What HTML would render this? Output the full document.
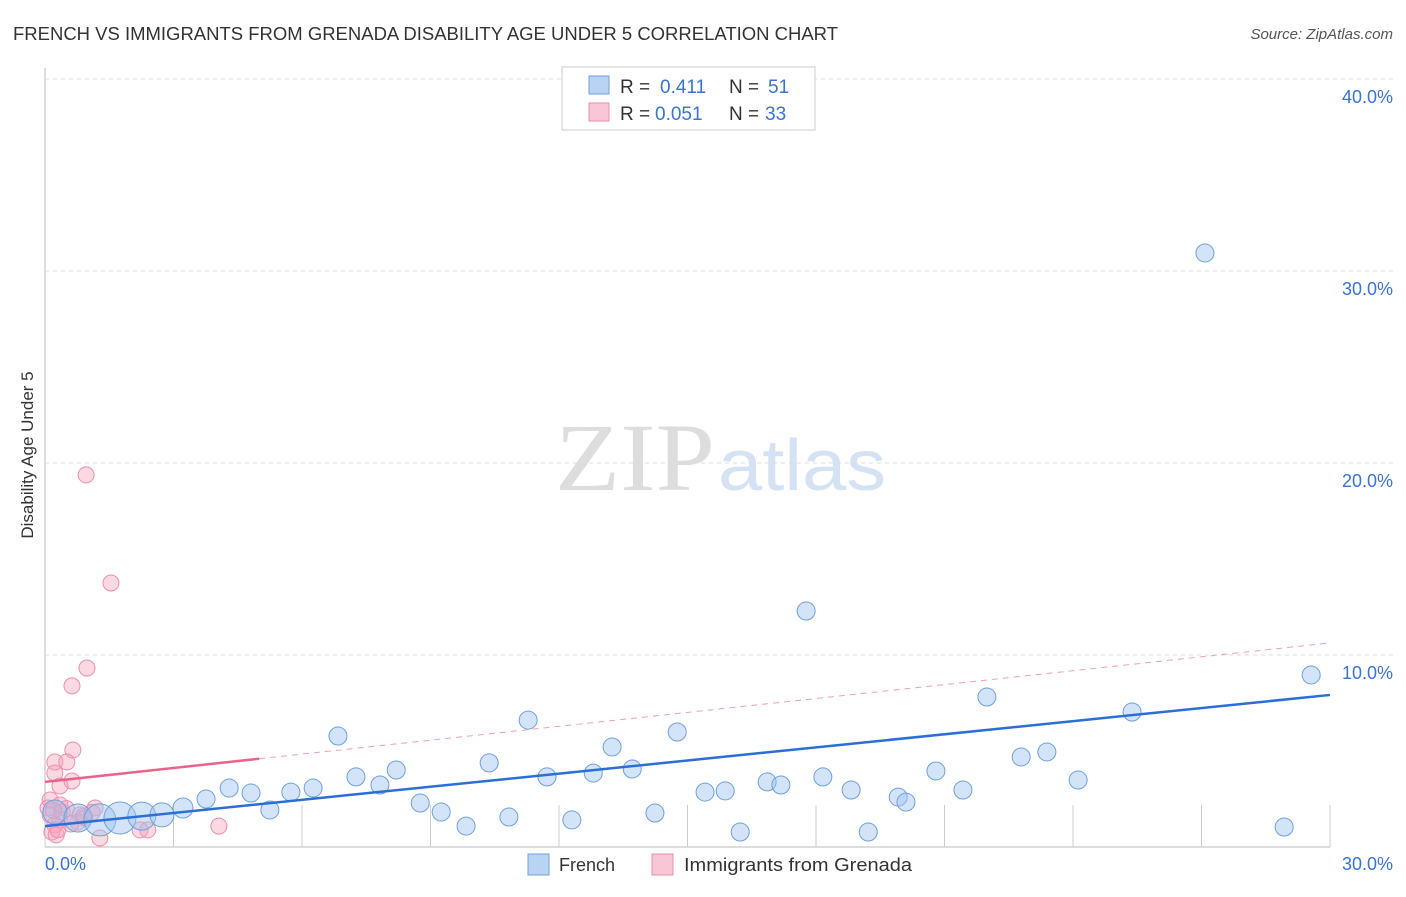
<!DOCTYPE html>
<html><head><meta charset="utf-8"><style>
body{margin:0;background:#fff;font-family:"Liberation Sans",sans-serif;}
svg text{font-family:"Liberation Sans",sans-serif;}
</style></head><body>
<svg id="c" width="1406" height="892">
<text x="13" y="40" font-size="18" fill="#333" textLength="825" lengthAdjust="spacingAndGlyphs">FRENCH VS IMMIGRANTS FROM GRENADA DISABILITY AGE UNDER 5 CORRELATION CHART</text>
<text x="1393" y="39" font-size="15" fill="#555" font-style="italic" text-anchor="end">Source: ZipAtlas.com</text>
<text x="555" y="490" font-size="96" fill="#ddd" textLength="160" lengthAdjust="spacingAndGlyphs" style="font-family:'Liberation Serif',serif">ZIP</text>
<text x="718" y="490" font-size="72" fill="#d4e2f4" textLength="168" lengthAdjust="spacingAndGlyphs">atlas</text>
<text transform="translate(33,455) rotate(-90)" font-size="17" fill="#333" text-anchor="middle">Disability Age Under 5</text>
<g id="grid"></g><g id="pts"></g><g id="trend"></g>
<g>
<rect x="562" y="67" width="253" height="63" fill="#fff" stroke="#ccc"/>
<rect x="589" y="76" width="20" height="18" fill="#b8d3f3" stroke="#6fa0dc"/>
<rect x="589" y="103" width="20" height="18" fill="#f8c6d5" stroke="#ec8fab"/>
<text x="620" y="93" font-size="19" fill="#333">R =</text><text x="660" y="93" font-size="19" fill="#3a73d0">0.411</text>
<text x="729" y="93" font-size="19" fill="#333">N =</text><text x="768" y="93" font-size="19" fill="#3a73d0">51</text>
<text x="620" y="120" font-size="19" fill="#333">R =</text><text x="655" y="120" font-size="19" fill="#3a73d0">0.051</text>
<text x="729" y="120" font-size="19" fill="#333">N =</text><text x="765" y="120" font-size="19" fill="#3a73d0">33</text>
</g>
<g>
<rect x="528" y="854" width="21" height="21" fill="#b8d3f3" stroke="#6fa0dc"/>
<text x="559" y="871" font-size="18" fill="#333">French</text>
<rect x="652" y="854" width="21" height="21" fill="#f8c6d5" stroke="#ec8fab"/>
<text x="684" y="871" font-size="18" fill="#333" textLength="228" lengthAdjust="spacingAndGlyphs">Immigrants from Grenada</text>
</g>
<text x="45" y="870" font-size="18" fill="#3a73d0">0.0%</text>
<text x="1393" y="870" font-size="18" fill="#3a73d0" text-anchor="end">30.0%</text>
</svg>
<script>
const yTicks=[10,20,30,40];
const yTickLabels=["10.0%","20.0%","30.0%","40.0%"];
const frenchX=[0.23,0.77,1.28,1.75,2.26,2.73,3.22,3.76,4.30,4.81,5.25,5.74,6.26,6.84,7.26,7.82,8.20,8.76,9.25,9.83,10.37,10.83,11.28,11.72,12.30,12.80,13.24,13.71,14.24,14.76,15.41,15.88,16.23,16.86,17.18,17.77,18.16,18.82,19.22,19.92,20.10,20.80,21.43,21.99,22.79,23.39,24.12,25.38,27.08,28.93,29.56];
const frenchY=[1.82,1.51,1.41,1.51,1.61,1.67,2.03,2.50,3.07,2.81,1.93,2.86,3.07,5.78,3.65,3.23,4.01,2.29,1.82,1.09,4.38,1.56,6.61,3.65,1.41,3.85,5.21,4.06,1.77,5.99,2.86,2.92,0.78,3.39,3.23,12.29,3.65,2.97,0.78,2.60,2.34,3.96,2.97,7.81,4.69,4.95,3.49,7.03,30.94,1.04,8.96];
const frenchR=[12,14,16,16,14,12,10,9,9,9,9,9,9,9,9,9,9,9,9,9,9,9,9,9,9,9,9,9,9,9,9,9,9,9,9,9,9,9,9,9,9,9,9,9,9,9,9,9,9,9,9];
const grenX=[0.96,1.54,0.98,0.63,0.65,0.23,0.51,0.23,0.35,0.63,0.12,0.35,0.12,0.23,0.16,0.35,0.82,0.93,0.77,2.22,2.40,4.06,1.28,1.17,0.07,0.40,0.26,0.5,0.2,0.9,0.6,0.3,1.1];
const grenY=[19.38,13.75,9.32,8.39,5.05,4.43,4.43,3.85,3.18,3.44,2.45,2.19,1.67,1.15,0.78,1.41,1.67,1.51,1.30,0.89,0.89,1.09,0.47,2.03,2.03,1.82,0.63,2.0,1.9,1.6,1.2,0.9,1.8];
const frenchTrend=[1.09,7.92];
const grenTrend=[3.39,10.63];
const X0=45,X1=1330,Y0=847;
const sx=v=>X0+v*(X1-X0)/30, sy=v=>Y0-v*19.2;
const NS="http://www.w3.org/2000/svg";
function mk(t,a,p){const e=document.createElementNS(NS,t);for(const k in a)e.setAttribute(k,a[k]);p.appendChild(e);return e;}
const grid=document.getElementById('grid');
mk('line',{x1:45,y1:68,x2:45,y2:847,stroke:'#bbb'},grid);
mk('line',{x1:45,y1:847,x2:1330,y2:847,stroke:'#bbb'},grid);
yTicks.forEach((t,i)=>{
 const g=mk('line',{x1:45,y1:sy(t),x2:1393,y2:sy(t),stroke:'#ddd','stroke-dasharray':'4,4'},grid);
 
 
 const l=mk('text',{x:1393,y:sy(t)+24,'font-size':18,fill:'#3a73d0','text-anchor':'end'},grid);
 l.textContent=yTickLabels[i];
 
 
});
for(let i=0;i<=10;i++){const x=sx(i*3);const tk=mk('line',{x1:x,y1:805,x2:x,y2:847,stroke:'#ccc'},grid);
 
 }
const pts=document.getElementById('pts');
grenX.forEach((v,i)=>{const c=mk('circle',{cx:sx(v),cy:sy(grenY[i]),r:8,fill:'rgba(244,160,186,0.4)',stroke:'#ec8fab','stroke-width':1},pts);
 
 });
frenchX.forEach((v,i)=>{const c=mk('circle',{cx:sx(v),cy:sy(frenchY[i]),r:frenchR[i],fill:'rgba(160,196,240,0.45)',stroke:'#6fa0dc','stroke-width':1},pts);
 
 });
const tr=document.getElementById('trend');
const gy=x=>grenTrend[0]+(grenTrend[1]-grenTrend[0])*x/30;
const l1=mk('line',{x1:sx(0),y1:sy(gy(0)),x2:sx(5),y2:sy(gy(5)),stroke:'#e8648c','stroke-width':2.5},tr);


const l2=mk('line',{x1:sx(5),y1:sy(gy(5)),x2:sx(30),y2:sy(gy(30)),stroke:'#eda0b6','stroke-width':1,'stroke-dasharray':'6,5'},tr);


const l3=mk('line',{x1:sx(0),y1:sy(frenchTrend[0]),x2:sx(30),y2:sy(frenchTrend[1]),stroke:'#2a6fd6','stroke-width':2.5},tr);


</script>
</body></html>
